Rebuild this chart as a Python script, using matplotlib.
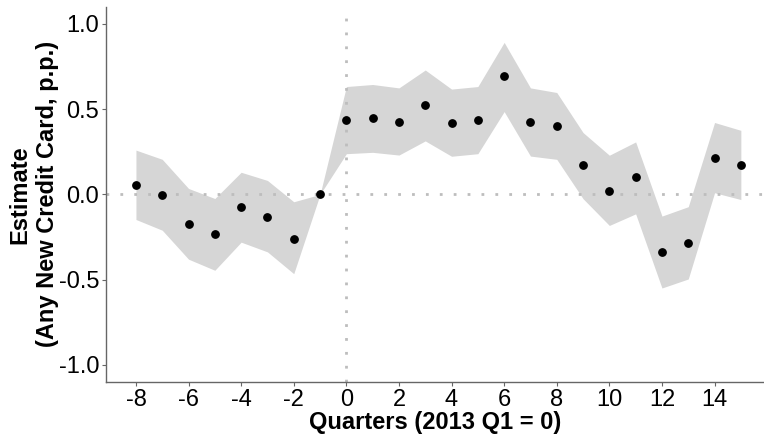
import matplotlib
matplotlib.use('Agg')
import matplotlib.pyplot as plt
import numpy as np

plt.rcParams.update({
    'font.family': ['Liberation Sans', 'DejaVu Sans'],
    'axes.unicode_minus': False,
})

quarters = np.arange(-8, 16)
estimate = [0.057, -0.002, -0.175, -0.233, -0.073, -0.131, -0.259, 0.0,
            0.437, 0.447, 0.427, 0.522, 0.418, 0.435, 0.692, 0.425,
            0.402, 0.175, 0.020, 0.100, -0.339, -0.284, 0.214, 0.175]
ci_high = [0.260, 0.206, 0.035, -0.024, 0.130, 0.082, -0.043, 0.0,
           0.633, 0.645, 0.625, 0.730, 0.618, 0.633, 0.892, 0.625,
           0.598, 0.363, 0.230, 0.308, -0.127, -0.072, 0.422, 0.376]
ci_low = [-0.147, -0.210, -0.380, -0.445, -0.280, -0.337, -0.465, 0.0,
          0.239, 0.247, 0.231, 0.314, 0.224, 0.239, 0.486, 0.225,
          0.206, -0.025, -0.182, -0.114, -0.549, -0.496, 0.010, -0.030]

fig = plt.figure(figsize=(7.64, 4.34), dpi=100)
ax = fig.add_axes([0.1387, 0.12, 0.862, 0.864])

ax.fill_between(quarters, ci_low, ci_high, color='#d6d6d6', linewidth=0, zorder=1)
ax.axhline(0, color='#bdbdbd', linestyle=(0, (1, 4)), linewidth=2, zorder=2)
ax.axvline(0, color='#bdbdbd', linestyle=(0, (1, 4)), linewidth=2, zorder=2)
ax.scatter(quarters, estimate, s=28, color='black', zorder=3)

ax.set_xlim(-9.14, 15.9)
ax.set_ylim(-1.1, 1.1)
ax.set_xticks(np.arange(-8, 16, 2))
ax.set_yticks([-1.0, -0.5, 0.0, 0.5, 1.0])
ax.set_yticklabels(['-1.0', '-0.5', '0.0', '0.5', '1.0'])

for side in ['top', 'right']:
    ax.spines[side].set_visible(False)
for side in ['left', 'bottom']:
    ax.spines[side].set_color('#666666')
    ax.spines[side].set_linewidth(1.0)
ax.tick_params(axis='both', labelsize=17, colors='#666666', labelcolor='black',
               length=3, width=0.8, pad=2)

ax.set_xlabel('Quarters (2013 Q1 = 0)', fontsize=17, fontweight='bold', labelpad=0)
ax.set_ylabel('Estimate\n(Any New Credit Card, p.p.)', fontsize=17,
              fontweight='bold', labelpad=0, linespacing=1.25)

fig.savefig('out.png', dpi=100)
